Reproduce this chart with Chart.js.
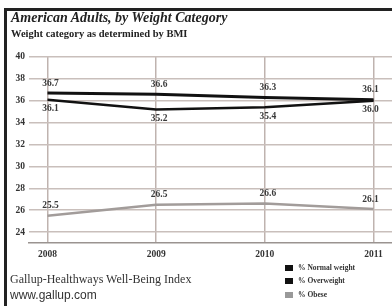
<!DOCTYPE html>
<html>
<head>
<meta charset="utf-8">
<script src="https://cdn.jsdelivr.net/npm/chart.js@4.4.0/dist/chart.umd.min.js"></script>
<style>
  html, body { margin: 0; padding: 0; background: #fff; }
  #wrap { position: relative; width: 392px; height: 306px; overflow: hidden; }
  #chart { position: absolute; left: 0; top: 0; }
  .frame { position: absolute; left: 4px; top: 8px; width: 400px; height: 310px;
           border-top: 3px solid #222; border-left: 3px solid #222; }
  .txt { position: absolute; white-space: nowrap; color: #222; font-family: "Liberation Serif", "DejaVu Serif", serif; }
  #title { left: 11px; top: 10px; font-size: 14px; font-weight: bold; font-style: italic; }
  #subtitle { left: 11px; top: 28px; font-size: 10.5px; font-weight: bold; }
  #source { left: 10px; top: 272px; font-size: 12px; color: #333; }
  #url { left: 10px; top: 288px; font-size: 12px; color: #333; font-family: "Liberation Sans", Arial, sans-serif; }
  .leg { position: absolute; left: 285px; font-size: 7.5px; font-weight: bold; color: #333;
         font-family: "Liberation Serif", serif; white-space: nowrap; }
  .leg i { display: inline-block; width: 8px; height: 6px; margin-right: 5px; vertical-align: -1px; }
</style>
</head>
<body>
<div id="wrap">
  <canvas id="chart" width="392" height="306"></canvas>
  <div class="frame"></div>
  <div class="txt" id="title">American Adults, by Weight Category</div>
  <div class="txt" id="subtitle">Weight category as determined by BMI</div>
  <div class="txt" id="source">Gallup-Healthways Well-Being Index</div>
  <div class="txt" id="url">www.gallup.com</div>
  <div class="leg" style="top:263px"><i style="background:#111"></i>% Normal weight</div>
  <div class="leg" style="top:276px"><i style="background:#111"></i>% Overweight</div>
  <div class="leg" style="top:290px"><i style="background:#999"></i>% Obese</div>
</div>
<script>
  const years = [2008, 2009, 2010, 2011];
  const normalWeight = [36.1, 35.2, 35.4, 36.0];
  const overweight = [36.7, 36.6, 36.3, 36.1];
  const obese = [25.5, 26.5, 26.6, 26.1];
  const yTicks = [24, 26, 28, 30, 32, 34, 36, 38, 40];

  const toPoints = (vals) => vals.map((v, i) => ({ x: years[i], y: v }));

  // value labels: above or below each point
  const valueLabels = {
    id: 'valueLabels',
    afterDatasetsDraw(chart) {
      const ctx = chart.ctx;
      ctx.save();
      ctx.font = 'bold 9.5px "Liberation Serif", serif';
      ctx.fillStyle = '#3a3a3a';
      ctx.textAlign = 'center';
      ctx.textBaseline = 'middle';
      chart.data.datasets.forEach((ds, di) => {
        const meta = chart.getDatasetMeta(di);
        meta.data.forEach((pt, i) => {
          let x = pt.x + 3;
          if (i === years.length - 1) x = pt.x - 3;
          const y = ds.labelPos === 'below' ? pt.y + 9 : pt.y - 10;
          ctx.fillText(ds.data[i].y.toFixed(1), x, y);
        });
      });
      ctx.restore();
    }
  };

  new Chart(document.getElementById('chart'), {
    type: 'line',
    data: {
      datasets: [
        { label: '% Normal weight', data: toPoints(normalWeight), borderColor: '#111', borderWidth: 2.5, labelPos: 'below' },
        { label: '% Overweight', data: toPoints(overweight), borderColor: '#111', borderWidth: 3, labelPos: 'above' },
        { label: '% Obese', data: toPoints(obese), borderColor: '#a29c9a', borderWidth: 2.5, labelPos: 'above' }
      ]
    },
    options: {
      responsive: false,
      animation: false,
      layout: { padding: { left: 0, right: 0, top: 57, bottom: 43 } },
      elements: { point: { radius: 0 }, line: { tension: 0 } },
      scales: {
        x: {
          type: 'linear',
          min: 2007.83,
          max: 2011.17,
          afterFit: (s) => { s.height = 20; },
          afterBuildTicks: (s) => { s.ticks = years.map(v => ({ value: v })); },
          ticks: {
            padding: 6,
            callback: (v) => String(v),
            font: { family: '"Liberation Serif", serif', size: 9.5, weight: 'bold' },
            color: '#333'
          },
          grid: { color: '#bfb3af', lineWidth: 1.5, drawTicks: false },
          border: { color: '#9a9390', width: 1.5 }
        },
        y: {
          min: 23,
          max: 40,
          afterFit: (s) => { s.width = 29; },
          afterBuildTicks: (s) => { s.ticks = yTicks.map(v => ({ value: v })); },
          ticks: {
            padding: 4,
            font: { family: '"Liberation Serif", serif', size: 9.5, weight: 'bold' },
            color: '#333'
          },
          grid: { color: '#c9bfbb', lineWidth: 1.5, drawTicks: false },
          border: { display: false }
        }
      },
      plugins: {
        legend: { display: false },
        tooltip: { enabled: false }
      }
    },
    plugins: [valueLabels]
  });
</script>
</body>
</html>
